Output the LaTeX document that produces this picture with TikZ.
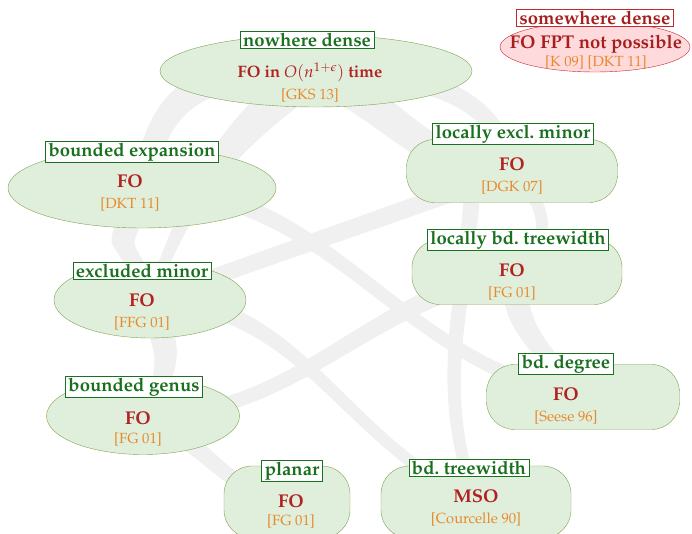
\documentclass[tikz,border=0pt]{standalone}
\usepackage[T1]{fontenc}
\usepackage{mathpazo}
\usepackage{xcolor}
\usepackage{tikz}
\usetikzlibrary{shapes.geometric, positioning, calc, backgrounds}

\definecolor{classfill}{RGB}{223,239,220}
\definecolor{classdraw}{RGB}{128,163,78}
\definecolor{titlegreen}{RGB}{25,112,30}
\definecolor{fored}{RGB}{178,34,34}
\definecolor{reforange}{RGB}{232,137,43}
\definecolor{densefill}{RGB}{255,218,220}
\definecolor{densedraw}{RGB}{196,40,45}
\definecolor{densered}{RGB}{168,30,30}
\definecolor{bandgray}{RGB}{240,240,240}

\newcommand{\classref}[1]{{\mdseries\fontsize{14.7}{16}\selectfont\color{reforange}#1}}
% tapered band: [looseness] from, to, out, in, half width at start, half width at end
\newcommand{\band}[7][1]{\fill[bandgray] ($(#2)+(#4+90:#6pt)$) to[out=#4,in=#5,looseness=#1] ($(#3)+(#5-90:#7pt)$) -- ($(#3)+(#5+90:#7pt)$) to[out=#5,in=#4,looseness=#1] ($(#2)+(#4-90:#6pt)$) -- cycle;}

\begin{document}
\begin{tikzpicture}[x=1pt, y=1pt, class/.style={ellipse, draw=classdraw, fill=classfill, inner sep=0pt}, blob/.style={rectangle, rounded corners=28pt, draw=classdraw, fill=classfill, inner sep=0pt}, classname/.style={draw=titlegreen, fill=white, text=titlegreen, line width=0.8pt, inner xsep=3pt, inner ysep=1.5pt, font=\fontsize{18.5}{20}\selectfont\bfseries}, fotext/.style={align=center, text=fored, inner sep=0pt, font=\fontsize{18.5}{21}\selectfont\bfseries}]
    \useasboundingbox (0,0) rectangle (692,534);

    %Nodes
    \node[class, minimum width=312pt, minimum height=72pt](nd) at (316,463){};
    \node[class, draw=densedraw, fill=densefill, minimum width=190pt, minimum height=50pt](sd) at (595,487){};
    \node[class, minimum width=268pt, minimum height=80pt](be) at (142,346){};
    \node[blob, minimum width=211pt, minimum height=63pt](lem) at (512,363){};
    \node[blob, minimum width=210pt, minimum height=65pt](lbt) at (517,262){};
    \node[class, minimum width=192pt, minimum height=76pt](em) at (150,234){};
    \node[class, minimum width=193pt, minimum height=77pt](bg) at (143,118){};
    \node[blob, minimum width=193pt, minimum height=65pt](bd) at (583,137){};
    \node[blob, minimum width=126pt, minimum height=72pt](planar) at (287,32){};
    \node[blob, minimum width=190pt, minimum height=72pt](btw) at (476,32){};

    \node[fotext](ndtext) at (310,452){\fontsize{16.5}{20}\selectfont FO in $O(n^{1+\epsilon})$ time\\[1pt]\classref{[GKS 13]}};
    \node[fotext, text=densered](sdtext) at (596,482){FO FPT not possible\\[-3pt]\classref{[K 09] [DKT 11]}};
    \node[fotext](betext) at (130,341){FO\\\classref{[DKT 11]}};
    \node[fotext](lemtext) at (512,358){FO\\\classref{[DGK 07]}};
    \node[fotext](lbttext) at (512,252){FO\\\classref{[FG 01]}};
    \node[fotext](emtext) at (142,222){FO\\\classref{[FFG 01]}};
    \node[fotext](bgtext) at (138,105){FO\\[-2pt]\classref{[FG 01]}};
    \node[fotext](bdtext) at (566,128){FO\\\classref{[Seese 96]}};
    \node[fotext](planartext) at (291,23){FO\\[-3pt]\classref{[FG 01]}};
    \node[fotext](btwtext) at (476,26){MSO\\\classref{[Courcelle 90]}};

    \node[classname](ndname) at (307,494){nowhere dense};
    \node[classname, draw=densedraw, text=densered](sdname) at (595,516){somewhere dense};
    \node[classname](bename) at (132,382){bounded expansion};
    \node[classname](lemname) at (513,400){locally excl.\ minor};
    \node[classname](lbtname) at (518,294){locally bd.\ treewidth};
    \node[classname](emname) at (142,263){excluded minor};
    \node[classname](bgname) at (134,147){bounded genus};
    \node[classname](bdname) at (566,170){bd.\ degree};
    \node[classname](planarname) at (292,63){planar};
    \node[classname](btwname) at (469,66){bd.\ treewidth};

    %Lines
    \begin{scope}[on background layer]
    \band[1.3]{nd}{be}{180}{80}{14}{11}
    \band{nd}{em}{215}{70}{18}{5}
    \band{nd}{lem}{0}{100}{12}{8}
    \band{nd}{lem}{-25}{180}{18}{14}
    \band[2]{be}{em}{250}{110}{12}{9}
    \band{be}{bd}{0}{170}{9}{7}
    \band{lem}{em}{200}{20}{9}{8}
    \band[1.3]{lem}{lbt}{-45}{45}{6}{5}
    \band{lem.218}{btw}{-95}{110}{8}{6}
    \band[1.32]{em}{bg}{-70}{60}{13}{8}
    \band{em}{btw}{0}{155}{9}{6}
    \band{lbt}{bg}{190}{0}{10}{7}
    \band{lbt}{bd}{-100}{130}{13}{8}
    \band{bg}{planar}{-20}{170}{10}{7}
    \end{scope}

\end{tikzpicture}
\end{document}
